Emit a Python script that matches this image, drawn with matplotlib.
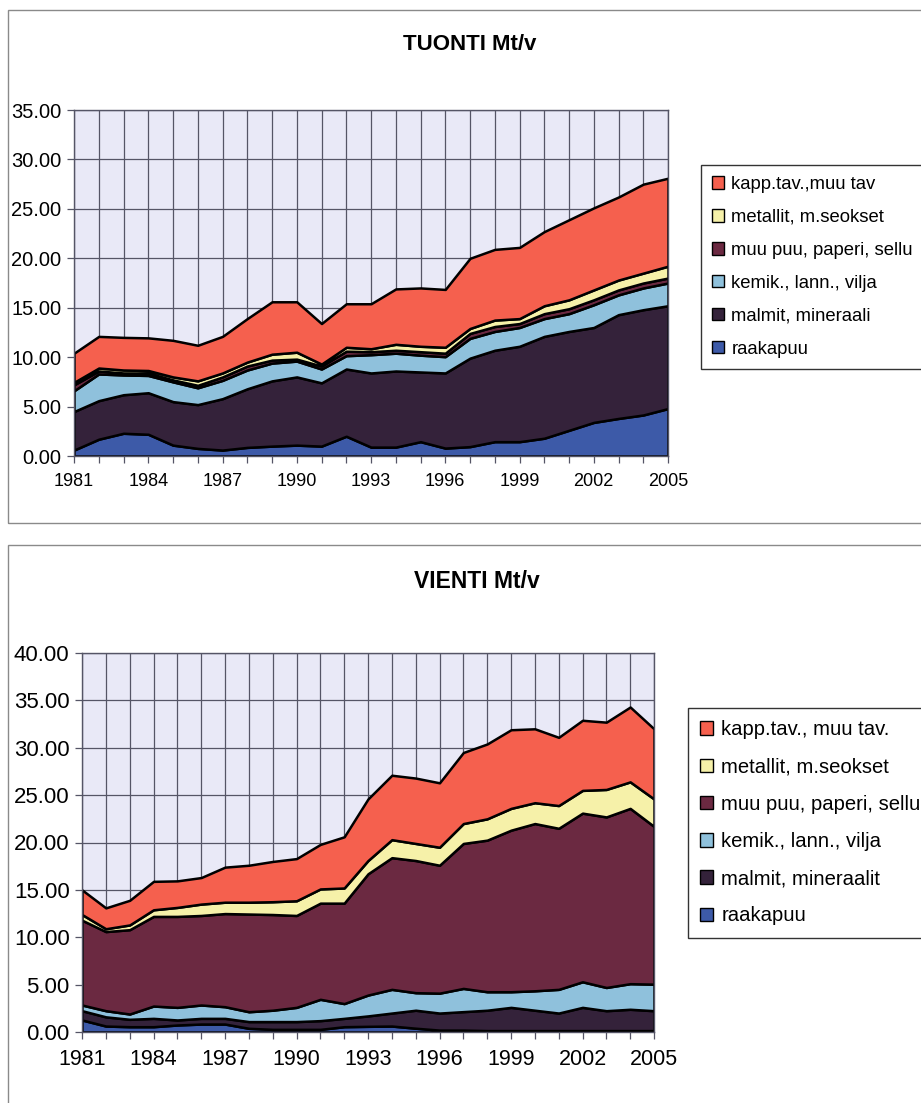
import matplotlib.pyplot as plt
import numpy as np
from matplotlib.patches import Patch, Rectangle

plt.rcParams['font.family'] = ['Liberation Sans', 'DejaVu Sans']

years = np.arange(1981, 2006)

# TUONTI (import), Mt/v
imp_raakapuu = [0.6, 1.7, 2.3, 2.2, 1.1, 0.77, 0.6, 0.87, 1.0, 1.1, 1.0, 2.0, 0.9,
                0.9, 1.45, 0.8, 0.95, 1.45, 1.45, 1.8, 2.6, 3.4, 3.8, 4.15, 4.8]
imp_malmit = [3.9, 3.9, 3.9, 4.2, 4.4, 4.43, 5.2, 5.93, 6.6, 6.9, 6.4, 6.8, 7.5,
              7.7, 7.05, 7.6, 8.95, 9.25, 9.65, 10.3, 10.0, 9.6, 10.5, 10.65, 10.4]
imp_kemik = [2.1, 2.7, 2.0, 1.75, 2.0, 1.7, 1.85, 1.9, 1.8, 1.6, 1.4, 1.35, 1.85,
             1.8, 1.7, 1.65, 2.0, 1.9, 1.9, 1.8, 1.8, 2.3, 2.0, 2.2, 2.3]
imp_muupuu = [0.6, 0.3, 0.2, 0.25, 0.2, 0.25, 0.35, 0.4, 0.3, 0.2, 0.3, 0.45, 0.3,
              0.3, 0.35, 0.35, 0.5, 0.5, 0.4, 0.5, 0.5, 0.5, 0.5, 0.5, 0.5]
imp_metallit = [0.25, 0.3, 0.3, 0.25, 0.3, 0.45, 0.4, 0.4, 0.6, 0.7, 0.2, 0.4, 0.3,
                0.6, 0.55, 0.6, 0.5, 0.65, 0.5, 0.8, 0.9, 1.0, 1.0, 1.0, 1.2]
imp_kapp = [2.95, 3.2, 3.3, 3.3, 3.7, 3.6, 3.7, 4.4, 5.3, 5.1, 4.1, 4.4, 4.55,
            5.6, 5.9, 5.85, 7.1, 7.15, 7.2, 7.5, 8.1, 8.3, 8.4, 9.0, 8.9]

# VIENTI (export), Mt/v
exp_raakapuu = [1.27, 0.63, 0.56, 0.56, 0.74, 0.84, 0.84, 0.39, 0.28, 0.28, 0.28, 0.56, 0.6,
                0.63, 0.4, 0.2, 0.2, 0.15, 0.15, 0.15, 0.15, 0.15, 0.15, 0.15, 0.15]
exp_malmit = [0.98, 0.97, 0.78, 0.88, 0.53, 0.6, 0.6, 0.71, 0.82, 0.82, 0.92, 0.88, 1.1,
              1.37, 1.9, 1.8, 1.95, 2.15, 2.45, 2.15, 1.85, 2.45, 2.1, 2.25, 2.1]
exp_kemik = [0.6, 0.65, 0.56, 1.3, 1.33, 1.41, 1.23, 1.04, 1.2, 1.5, 2.25, 1.56, 2.2,
             2.5, 1.85, 2.1, 2.45, 1.95, 1.65, 2.05, 2.5, 2.7, 2.45, 2.7, 2.8]
exp_muupuu = [8.95, 8.35, 8.9, 9.46, 9.6, 9.45, 9.83, 10.31, 10.1, 9.7, 10.15, 10.6, 12.8,
              13.9, 13.95, 13.5, 15.3, 16.0, 17.05, 17.65, 17.0, 17.8, 18.0, 18.5, 16.65]
exp_metallit = [0.6, 0.3, 0.5, 0.7, 0.95, 1.2, 1.2, 1.25, 1.35, 1.55, 1.5, 1.6, 1.4,
                1.9, 1.8, 1.9, 2.1, 2.25, 2.3, 2.2, 2.4, 2.4, 2.9, 2.8, 2.9]
exp_kapp = [2.6, 2.2, 2.6, 3.0, 2.8, 2.8, 3.7, 3.9, 4.25, 4.45, 4.7, 5.4, 6.5,
            6.8, 6.9, 6.8, 7.5, 7.9, 8.3, 7.8, 7.2, 7.4, 7.1, 7.9, 7.4]

imp_labels = ['raakapuu', 'malmit, mineraali', 'kemik., lann., vilja',
              'muu puu, paperi, sellu', 'metallit, m.seokset', 'kapp.tav.,muu tav']
exp_labels = ['raakapuu', 'malmit, mineraalit', 'kemik., lann., vilja',
              'muu puu, paperi, sellu', 'metallit, m.seokset', 'kapp.tav., muu tav.']

colors = ['#3d5aa8', '#34223a', '#8fc1dc', '#6b2941', '#f6f1a9', '#f5604e']

W, H = 921, 1103


def rect(x0, y0, x1, y1):
    # pixel box -> figure fraction
    return [x0 / W, 1 - y1 / H, (x1 - x0) / W, (y1 - y0) / H]


fig = plt.figure(figsize=(W / 100, H / 100), dpi=100)

# panel frames
fig.patches.append(Rectangle((8 / W, 1 - 523 / H), 1.0, (523 - 10) / H,
                             transform=fig.transFigure, fill=False,
                             edgecolor='#8a8a8a', linewidth=1.0))
fig.patches.append(Rectangle((8 / W, -0.05), 1.0, 1 - 545 / H + 0.05,
                             transform=fig.transFigure, fill=False,
                             edgecolor='#8a8a8a', linewidth=1.0))


def panel(box, data, labels, ymax, title, title_xy, leg_xy, xfs, yfs, lfs, lspace, tfs):
    ax = fig.add_axes(rect(*box))
    ax.set_facecolor('#e9e9f7')
    ax.stackplot(years, *data, colors=colors, edgecolor='black', linewidth=1.8)
    ax.set_xlim(1981, 2005)
    ax.set_ylim(0, ymax)
    ax.set_xticks(np.arange(1981, 2006, 3))
    ax.set_xticks(years, minor=True)
    ax.set_yticks(np.arange(0, ymax + 1, 5))
    ax.set_yticklabels(['%.2f' % v for v in np.arange(0, ymax + 1, 5)])
    ax.grid(True, which='both', axis='x', color='#555566', linewidth=0.9)
    ax.grid(True, which='major', axis='y', color='#555566', linewidth=0.9)
    ax.set_axisbelow(True)
    ax.tick_params(axis='x', which='both', direction='out', length=5, width=0.9,
                   color='#555566', labelsize=xfs, pad=7)
    ax.tick_params(axis='y', direction='out', length=5, width=0.9,
                   color='#555566', labelsize=yfs, pad=4)
    for s in ax.spines.values():
        s.set_color('#555566')
        s.set_linewidth(1.0)
    fig.text(title_xy[0] / W, 1 - title_xy[1] / H, title, ha='center', va='center',
             fontsize=tfs, fontweight='bold')
    handles = [Patch(facecolor=c, edgecolor='black', linewidth=1.0) for c in colors]
    leg = fig.legend(handles[::-1], labels[::-1], loc='upper left',
                     bbox_to_anchor=(leg_xy[0] / W, 1 - leg_xy[1] / H),
                     fontsize=lfs, frameon=True, fancybox=False, framealpha=1,
                     edgecolor='#333333', handlelength=0.65, handleheight=0.65,
                     handletextpad=0.4, labelspacing=lspace, borderpad=0.6,
                     borderaxespad=0)
    leg.get_frame().set_linewidth(1.0)
    return ax


panel((74, 110, 668, 456),
      [imp_raakapuu, imp_malmit, imp_kemik, imp_muupuu, imp_metallit, imp_kapp],
      imp_labels, 35, 'TUONTI Mt/v', (470, 44), (701, 165), 13, 14.5, 13.3, 0.86, 16)

panel((82, 653, 654, 1032),
      [exp_raakapuu, exp_malmit, exp_kemik, exp_muupuu, exp_metallit, exp_kapp],
      exp_labels, 40, 'VIENTI Mt/v', (477, 581), (688, 708), 15.5, 16, 14.6, 0.9, 16.5)

plt.savefig('out.png', dpi=100)
